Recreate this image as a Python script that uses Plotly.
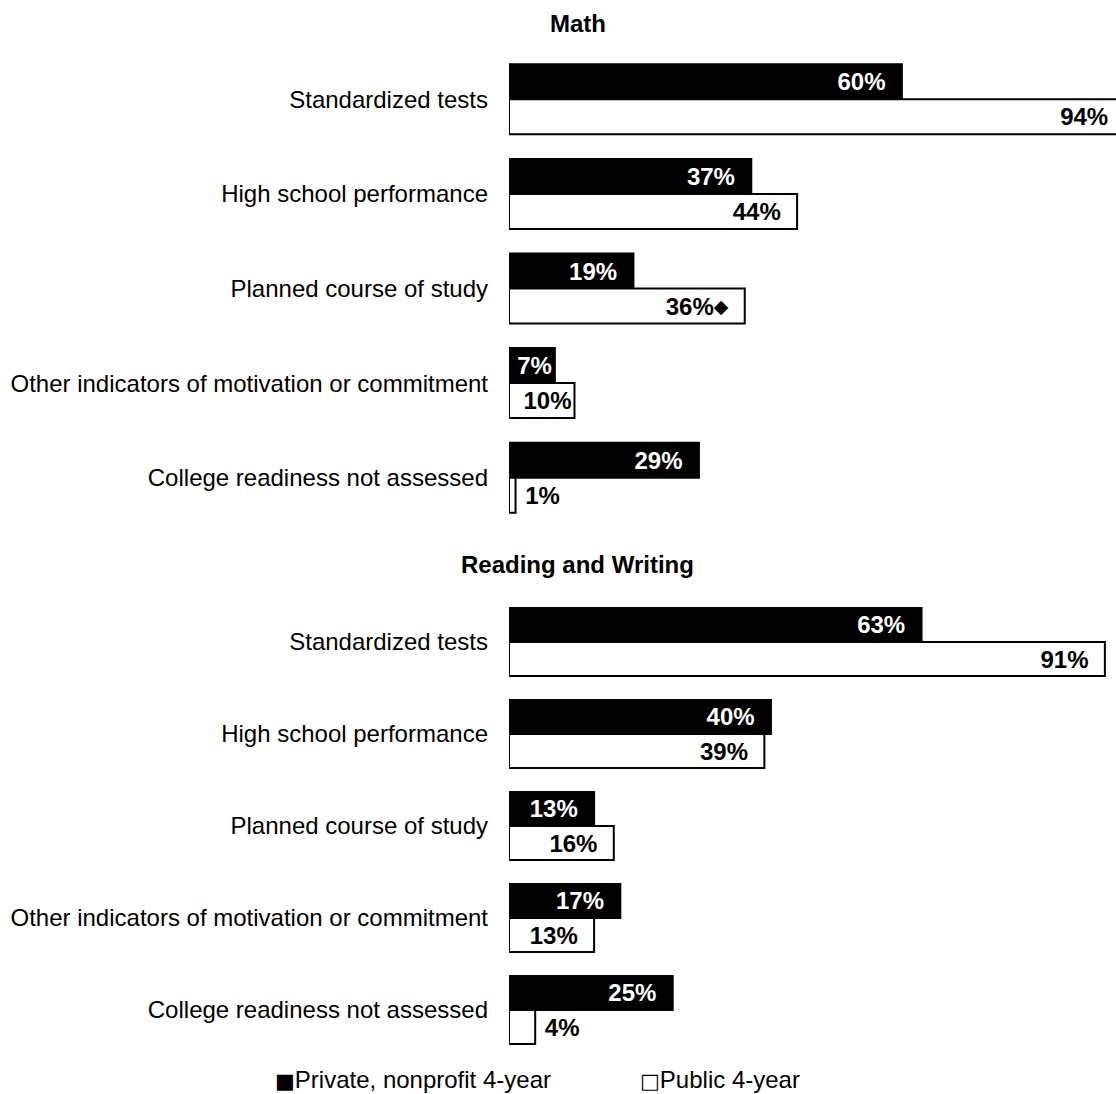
import plotly.graph_objects as go

categories = [
    "Standardized tests",
    "High school performance",
    "Planned course of study",
    "Other indicators of motivation or commitment",
    "College readiness not assessed",
]
math_private = [60, 37, 19, 7, 29]
math_public = [94, 44, 36, 10, 1]
math_public_marks = ["", "", "\u25c6", "", ""]
rw_private = [63, 40, 13, 17, 25]
rw_public = [91, 39, 16, 13, 4]
rw_public_marks = ["", "", "", "", ""]
series_names = ["Private, nonprofit 4-year", "Public 4-year"]
panel_titles = ["Math", "Reading and Writing"]

FONT = "Liberation Sans, Arial, sans-serif"
NB = "\u00a0"


def labels(values, marks=None):
    marks = marks or [""] * len(values)
    out, pos = [], []
    for v, m in zip(values, marks):
        mk = (f"<span style='font-size:19px;font-family:DejaVu Sans;"
              f"baseline-shift:2px'>{m}</span>") if m else ""
        t = f"{v}%{mk}"
        if v < 5:
            out.append(NB + t)
            pos.append("outside")
        elif v < 12:
            out.append(t)
            pos.append("inside")
        else:
            out.append(t + NB + NB)
            pos.append("inside")
    return out, pos


fig = go.Figure()

panels = [
    (math_private, math_public, math_public_marks, "x", "y"),
    (rw_private, rw_public, rw_public_marks, "x2", "y2"),
]
for priv, pub, marks, xa, ya in panels:
    t1, p1 = labels(priv)
    t2, p2 = labels(pub, marks)
    fig.add_trace(go.Bar(
        y=categories, x=priv, orientation="h", name=series_names[0],
        marker=dict(color="black", line=dict(color="black", width=2)),
        text=t1, textposition=p1, insidetextanchor="end",
        constraintext="none", cliponaxis=True,
        insidetextfont=dict(color="white", size=24, family=FONT, weight="bold"),
        outsidetextfont=dict(color="black", size=24, family=FONT, weight="bold"),
        xaxis=xa, yaxis=ya, showlegend=False, hoverinfo="skip",
    ))
    fig.add_trace(go.Bar(
        y=categories, x=pub, orientation="h", name=series_names[1],
        marker=dict(color="white", line=dict(color="black", width=2)),
        text=t2, textposition=p2, insidetextanchor="end",
        constraintext="none", cliponaxis=True,
        insidetextfont=dict(color="black", size=24, family=FONT, weight="bold"),
        outsidetextfont=dict(color="black", size=24, family=FONT, weight="bold"),
        xaxis=xa, yaxis=ya, showlegend=False, hoverinfo="skip",
    ))

W, H = 1116, 1094
xdom = [509 / W, 1.0]
xcommon = dict(range=[0, 92.7], domain=xdom, visible=False, fixedrange=True)
ycommon = dict(
    autorange="reversed", showgrid=False, showline=False, zeroline=False,
    ticks="", ticklabelstandoff=20, fixedrange=True,
    tickfont=dict(size=24, family=FONT, color="black"),
)

fig.update_layout(
    width=W, height=H,
    margin=dict(l=0, r=0, t=0, b=0),
    paper_bgcolor="white", plot_bgcolor="white",
    barmode="group", bargap=0.26, bargroupgap=0,
    font=dict(family=FONT, color="black"),
    xaxis=dict(**xcommon, anchor="y"),
    yaxis=dict(**ycommon, domain=[1 - 525 / H, 1 - 52 / H], anchor="x"),
    xaxis2=dict(**xcommon, anchor="y2"),
    yaxis2=dict(**ycommon, domain=[1 - 1056 / H, 1 - 596 / H], anchor="x2"),
)

title_y = [1 - 24 / H, 1 - 564 / H]
for title, ty in zip(panel_titles, title_y):
    fig.add_annotation(
        text=f"<b>{title}</b>", xref="paper", yref="paper", x=578 / W, y=ty,
        xanchor="center", yanchor="middle", showarrow=False,
        font=dict(size=24, family=FONT, color="black"),
    )

legend_glyphs = ["\u25a0", "\u25a1"]
legend_x = [273 / W, 638 / W]
for glyph, name, lx in zip(legend_glyphs, series_names, legend_x):
    fig.add_annotation(
        text=f"<span style='font-family:DejaVu Sans;font-size:21px'>{glyph}</span>{name}",
        xref="paper", yref="paper", x=lx, y=1 - 1079 / H,
        xanchor="left", yanchor="middle", showarrow=False,
        font=dict(size=24, family=FONT, color="black"),
    )

fig.write_html(
    "out.html",
    config={"displayModeBar": False},
    post_script="document.body.style.margin='0';document.body.style.padding='0';document.body.style.overflow='hidden';",
)
